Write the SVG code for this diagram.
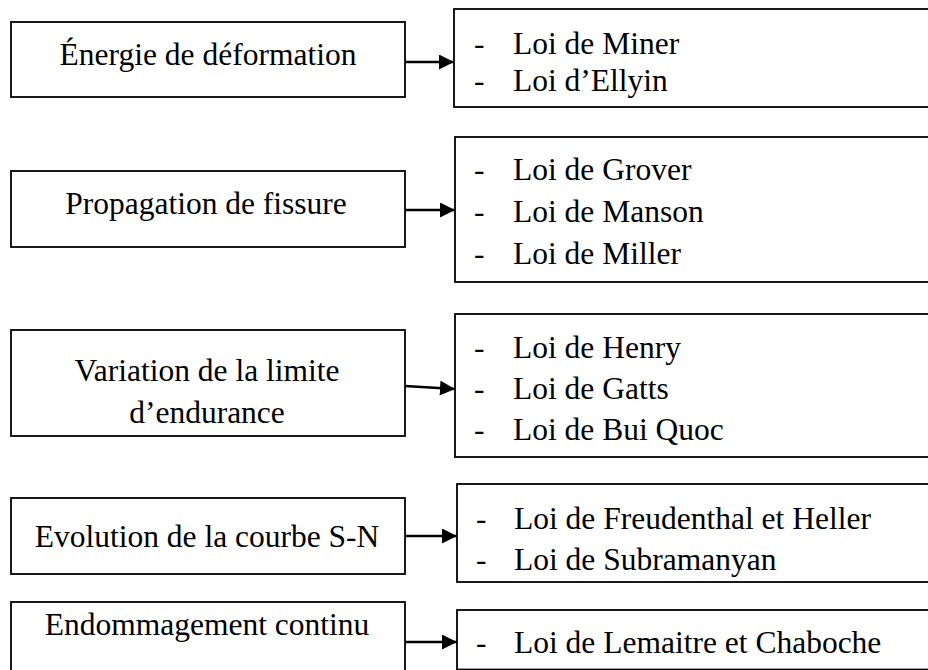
<svg xmlns="http://www.w3.org/2000/svg" width="928" height="670" viewBox="0 0 928 670">
  <style>
    .box { fill: #ffffff; stroke: #000000; stroke-width: 1.8; }
    .lbl { font-size: 31.5px; fill: #000000; }
    .mid { text-anchor: middle; }
    .link { stroke: #000000; stroke-width: 2.5; fill: none; marker-end: url(#head); }
  </style>
  <defs>
    <marker id="head" viewBox="0 0 10 10" refX="10" refY="5" markerWidth="6.2" markerHeight="6" markerUnits="strokeWidth" orient="auto">
      <path d="M0,0 L10,5 L0,10 Z" fill="#000000"/>
    </marker>
  </defs>
  <rect width="928" height="670" fill="#ffffff"/>

  <g font-family="'Liberation Serif', 'Times New Roman', 'DejaVu Serif', serif">
  <!-- Energie de deformation -->
  <g id="energie">
    <rect class="box" x="11" y="22" width="394" height="75"/>
    <text class="lbl mid" x="208" y="65">Énergie de déformation</text>
  </g>
  <g id="lois-energie">
    <rect class="box" x="454" y="9" width="490" height="98"/>
    <text class="lbl" x="474" y="54">-</text>
    <text class="lbl" x="513" y="54">Loi de Miner</text>
    <text class="lbl" x="474" y="91">-</text>
    <text class="lbl" x="513" y="91">Loi d’Ellyin</text>
  </g>

  <!-- Propagation de fissure -->
  <g id="propagation">
    <rect class="box" x="11" y="171" width="394" height="76"/>
    <text class="lbl mid" x="206" y="214">Propagation de fissure</text>
  </g>
  <g id="lois-propagation">
    <rect class="box" x="455" y="137" width="490" height="145"/>
    <text class="lbl" x="474" y="180">-</text>
    <text class="lbl" x="513" y="180">Loi de Grover</text>
    <text class="lbl" x="474" y="222">-</text>
    <text class="lbl" x="513" y="222">Loi de Manson</text>
    <text class="lbl" x="474" y="264">-</text>
    <text class="lbl" x="513" y="264">Loi de Miller</text>
  </g>

  <!-- Variation de la limite d'endurance -->
  <g id="variation">
    <rect class="box" x="11" y="330" width="394" height="106"/>
    <text class="lbl mid" x="207" y="381">Variation de la limite</text>
    <text class="lbl mid" x="207" y="423">d’endurance</text>
  </g>
  <g id="lois-variation">
    <rect class="box" x="455" y="314" width="490" height="143"/>
    <text class="lbl" x="474" y="358">-</text>
    <text class="lbl" x="513" y="358">Loi de Henry</text>
    <text class="lbl" x="474" y="399">-</text>
    <text class="lbl" x="513" y="399">Loi de Gatts</text>
    <text class="lbl" x="474" y="440">-</text>
    <text class="lbl" x="513" y="440">Loi de Bui Quoc</text>
  </g>

  <!-- Evolution de la courbe S-N -->
  <g id="evolution">
    <rect class="box" x="11" y="498" width="394" height="76"/>
    <text class="lbl mid" x="207" y="547">Evolution de la courbe S-N</text>
  </g>
  <g id="lois-evolution">
    <rect class="box" x="457" y="484" width="490" height="98"/>
    <text class="lbl" x="476" y="529">-</text>
    <text class="lbl" x="514" y="529">Loi de Freudenthal et Heller</text>
    <text class="lbl" x="476" y="570">-</text>
    <text class="lbl" x="514" y="570">Loi de Subramanyan</text>
  </g>

  <!-- Endommagement continu -->
  <g id="endommagement">
    <rect class="box" x="11" y="602" width="394" height="90"/>
    <text class="lbl mid" x="207" y="635">Endommagement continu</text>
  </g>
  <g id="lois-endommagement">
    <rect class="box" x="457" y="610" width="490" height="59.5"/>
    <text class="lbl" x="476" y="653">-</text>
    <text class="lbl" x="514" y="653">Loi de Lemaitre et Chaboche</text>
  </g>
  </g>

  <!-- connectors -->
  <g id="connectors">
    <line class="link" x1="405" y1="62" x2="454" y2="62"/>
    <line class="link" x1="405" y1="210" x2="455" y2="210"/>
    <line class="link" x1="405" y1="386" x2="455" y2="389"/>
    <line class="link" x1="405" y1="536" x2="457" y2="536"/>
    <line class="link" x1="405" y1="642" x2="457" y2="642"/>
  </g>
</svg>
